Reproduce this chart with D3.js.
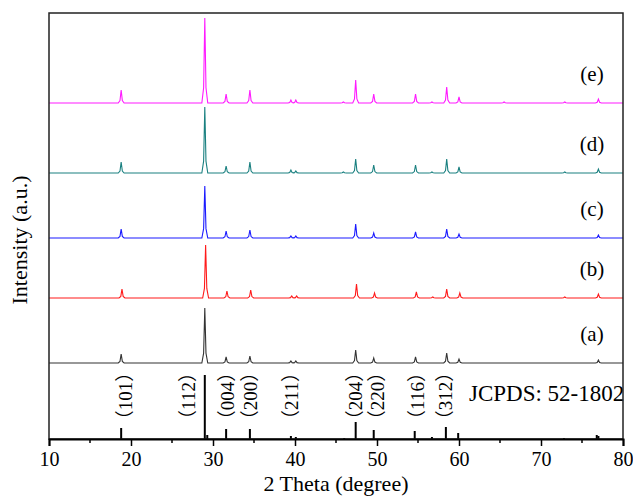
<!DOCTYPE html>
<html>
<head>
<meta charset="utf-8">
<script src="https://cdn.jsdelivr.net/npm/d3@7"></script>
<style>
  body { margin: 0; background: #fff; }
  text { font-family: "Times New Roman", "Liberation Serif", "Noto Sans CJK SC", serif; fill: #000; }
</style>
</head>
<body>
<div id="chart"></div>
<script>
'use strict';

const width = 633,
    height = 496,
    margin = {top: 13, right: 10, bottom: 57, left: 49};

// peak lists per sample: [2theta, intensity above the sample baseline] (a.u.)
const peaksA = [[18.8, 9], [29.0, 55], [31.6, 6], [34.5, 7], [39.5, 2], [40.1, 2], [47.4, 13], [49.6, 5],
    [54.7, 6], [58.5, 10], [60.0, 4], [77.0, 3]];
const peaksB = [[18.9, 9], [29.1, 53], [31.7, 7], [34.6, 8], [39.6, 2], [40.2, 2], [47.5, 14], [49.7, 5],
    [54.8, 6], [56.8, 1], [58.5, 9], [60.1, 5], [72.9, 1], [77.0, 4]];
const peaksC = [[18.8, 9], [29.0, 52], [31.6, 7], [34.5, 8], [39.5, 2], [40.1, 2], [47.4, 14], [49.6, 5],
    [54.7, 6], [58.5, 9], [60.0, 4], [77.0, 3]];
const peaksD = [[18.8, 11], [29.0, 66], [31.6, 7], [34.5, 11], [39.5, 3], [40.1, 2], [45.9, 1], [47.4, 14],
    [49.6, 8], [54.7, 8], [56.7, 1], [58.5, 14], [60.0, 6], [72.9, 1], [77.0, 4]];
const peaksE = [[18.8, 13], [29.0, 85], [31.6, 9], [34.5, 13], [39.5, 3], [40.1, 3], [45.9, 1], [47.4, 23],
    [49.6, 9], [54.7, 9], [56.7, 1], [58.5, 16], [60.0, 6], [65.5, 1], [72.9, 1], [77.0, 4]];

// vertical offsets of the stacked patterns (a.u.)
const sampleNames = ["(a)", "(b)", "(c)", "(d)", "(e)"];
const sampleOffsets = [76, 141, 201, 266, 336];
const samplePeaks = [peaksA, peaksB, peaksC, peaksD, peaksE];
const sampleColors = ["#333333", "#ff1a1a", "#1a1aff", "#1a8080", "#ff1aff"];

// JCPDS 52-1802 reference lines: [2theta, relative intensity]
const refLines = [[18.8, 11], [29.0, 64], [29.3, 4], [31.6, 10], [34.5, 10], [39.5, 3], [40.1, 2], [46.0, 1],
    [47.4, 17], [49.6, 9], [54.6, 8], [56.7, 2], [58.4, 12], [59.9, 6], [72.8, 1], [76.8, 4], [77.0, 3]];
const hklLabels = ["（101）", "（112）", "（004）", "（200）", "（211）", "（204）", "（220）", "（116）", "（312）"];
const hklAt = [19.3, 26.95, 31.7, 34.5, 39.5, 47.4, 50.1, 54.9, 58.3];

const xTicks = [10, 20, 30, 40, 50, 60, 70, 80];

const svg = d3.select("#chart")
    .append("svg")
    .attr("width", width)
    .attr("height", height);

const xScale = d3.scaleLinear()
    .domain([10, 80])
    .range([margin.left, width - margin.right]);
const yScale = d3.scaleLinear()
    .domain([0, 426])
    .range([height - margin.bottom, margin.top]);

// turn a peak list into a line profile with narrow peaks
function profile(peaks, w) {
    const pts = [[10, 0]];
    peaks.forEach(([p, h]) => {
        pts.push([p - w, 0], [p - w * 0.4, h * 0.18], [p, h], [p + w * 0.4, h * 0.18], [p + w, 0]);
    });
    pts.push([80, 0]);
    return pts;
}

const line = d3.line()
    .x(d => xScale(d[0]))
    .y(d => yScale(d[1]));

samplePeaks.forEach((peaks, i) => {
    const off = sampleOffsets[i];
    svg.append("path")
        .attr("d", line(profile(peaks, 0.36).map(d => [d[0], d[1] + off])))
        .attr("fill", "none")
        .attr("stroke", sampleColors[i])
        .attr("stroke-width", 1.1);

    svg.append("text")
        .attr("x", 592)
        .attr("y", yScale(off) - 22)
        .attr("text-anchor", "middle")
        .attr("font-size", 21)
        .text(sampleNames[i]);
});

// reference sticks
svg.selectAll(".ref")
    .data(refLines)
    .join("line")
    .attr("class", "ref")
    .attr("x1", d => xScale(d[0]))
    .attr("x2", d => xScale(d[0]))
    .attr("y1", yScale(0))
    .attr("y2", d => yScale(d[1]))
    .attr("stroke", "#000")
    .attr("stroke-width", 2);

svg.selectAll(".hkl")
    .data(hklLabels)
    .join("text")
    .attr("class", "hkl")
    .attr("transform", (d, i) => `translate(${xScale(hklAt[i])},396) rotate(-90)`)
    .attr("text-anchor", "middle")
    .attr("dy", "0.35em")
    .attr("font-size", 19)
    .text(d => d);

svg.append("text")
    .attr("x", 469)
    .attr("y", 401)
    .attr("font-size", 23)
    .text("JCPDS: 52-1802");

// frame
svg.append("rect")
    .attr("x", margin.left)
    .attr("y", margin.top)
    .attr("width", width - margin.right - margin.left)
    .attr("height", height - margin.bottom - margin.top)
    .attr("fill", "none")
    .attr("stroke", "#222")
    .attr("stroke-width", 1.5);

const xAxis = d3.axisBottom(xScale)
    .tickValues(xTicks)
    .tickSize(7)
    .tickPadding(6)
    .tickFormat(d3.format("d"));

const gx = svg.append("g")
    .attr("transform", `translate(0,${height - margin.bottom})`)
    .call(xAxis);
gx.select(".domain").attr("stroke-width", 2).attr("stroke", "#000");
gx.selectAll(".tick line").attr("stroke-width", 1.5);
gx.selectAll(".tick text")
    .attr("font-family", "'Times New Roman', 'Liberation Serif', serif")
    .attr("font-size", 20);

// minor ticks
gx.selectAll(".minor")
    .data(d3.range(15, 80, 10))
    .join("line")
    .attr("class", "minor")
    .attr("x1", d => xScale(d))
    .attr("x2", d => xScale(d))
    .attr("y1", 0)
    .attr("y2", 4)
    .attr("stroke", "#000")
    .attr("stroke-width", 1.5);

svg.append("text")
    .attr("x", 336)
    .attr("y", 491)
    .attr("text-anchor", "middle")
    .attr("font-size", 22)
    .text("2 Theta (degree)");

svg.append("text")
    .attr("transform", "translate(27,240) rotate(-90)")
    .attr("text-anchor", "middle")
    .attr("font-size", 22)
    .text("Intensity (a.u.)");
</script>
</body>
</html>
